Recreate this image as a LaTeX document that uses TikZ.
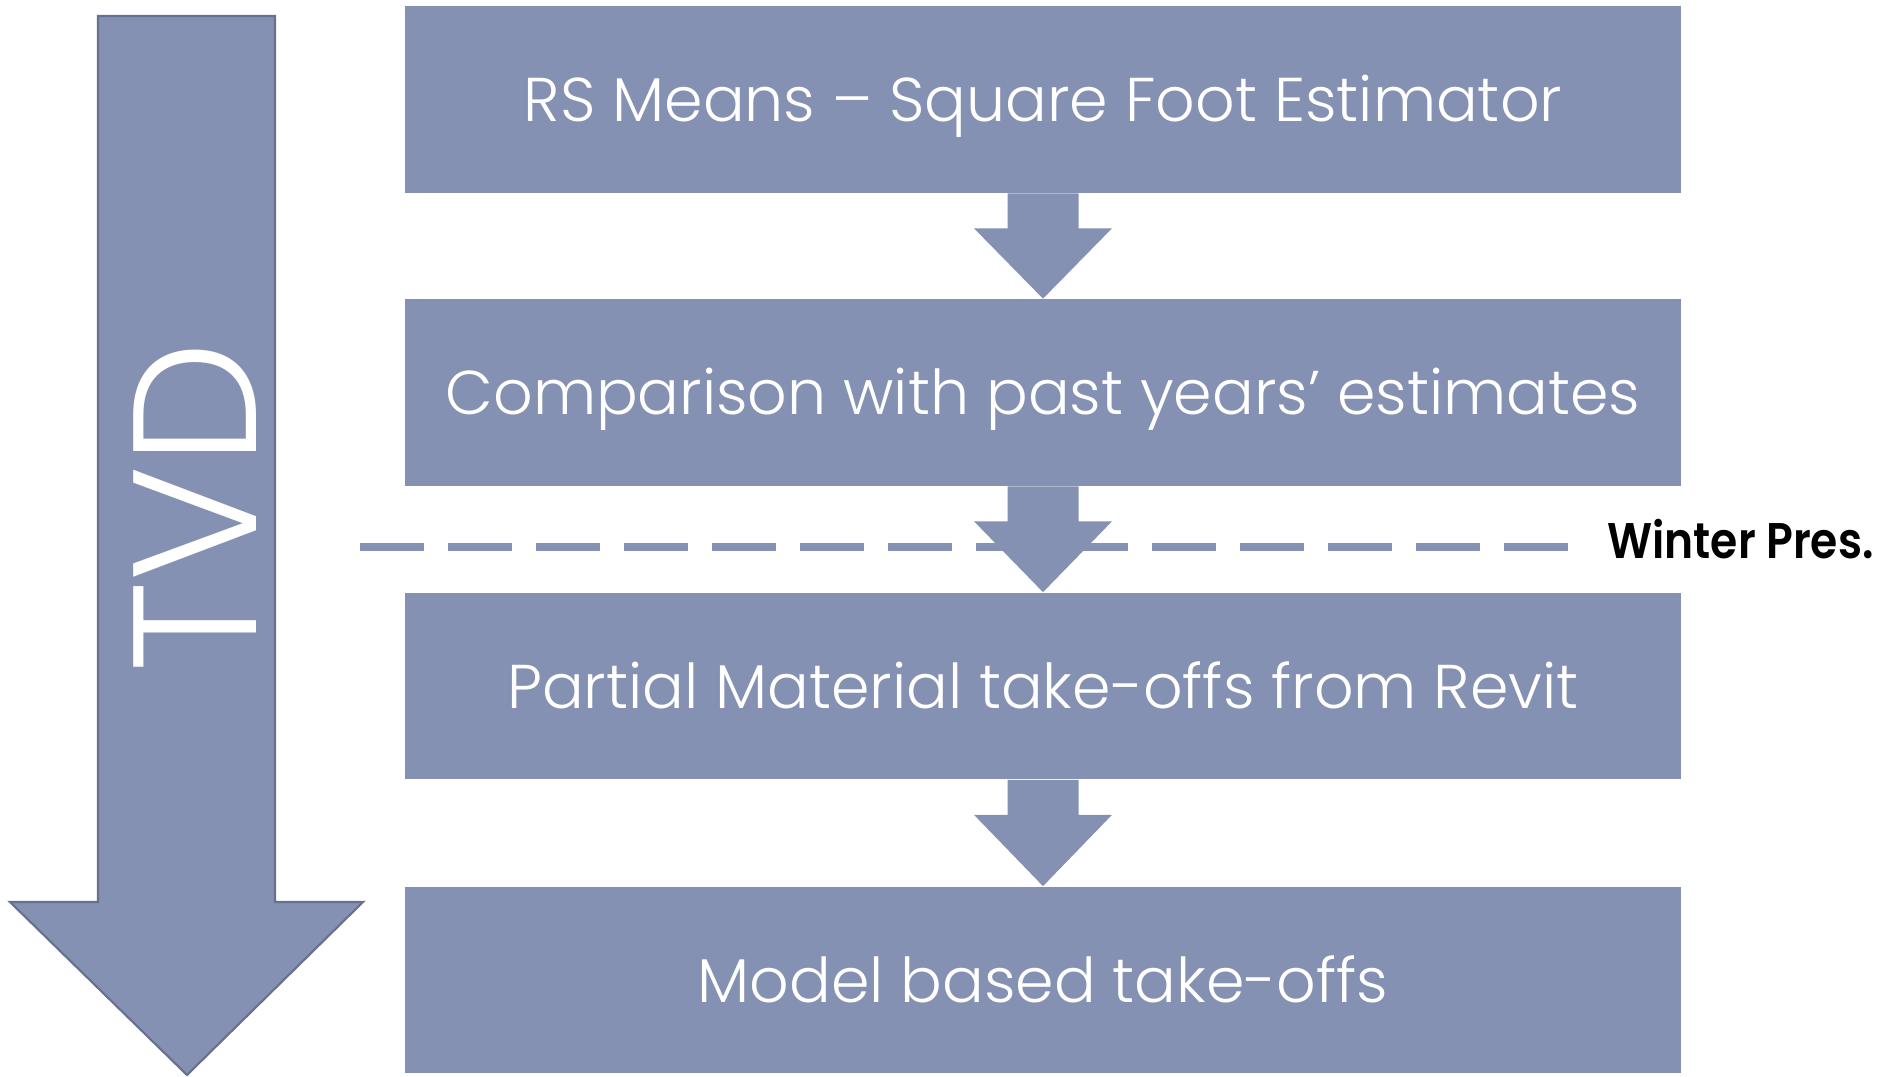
\documentclass[tikz,border=0pt]{standalone}
\usepackage{fontspec}
\setmainfont{Poppins Light}
\newfontfamily\presfont{Poppins SemiBold}
\usetikzlibrary{calc}
\definecolor{flowblue}{RGB}{132,145,179}
\definecolor{flowedge}{RGB}{103,112,142}
\newcommand{\flowarrow}[2]{%
	\fill[flowblue] ($(#1.south)+(-35.5,0)$) -- ($(#1.south)+(35.5,0)$) -- ($(#1.south)+(35.5,35)$)
	-- ($(#1.south)+(69,35)$) -- (#2.north) -- ($(#1.south)+(-69,35)$) -- ($(#1.south)+(-35.5,35)$) -- cycle;}
\begin{document}
\begin{tikzpicture}[x=0.02cm,y=-0.02cm,line join=miter,
	stepbox/.style={fill=flowblue,text=white,minimum width=25.52cm,minimum height=3.74cm,inner sep=0pt,
		text height=0.9cm,text depth=0pt,font=\fontsize{35.2}{40}\selectfont}]
	\useasboundingbox (0,0) rectangle (1877,1077);
	\filldraw[fill=flowblue,draw=flowedge,line width=1.2pt] (98,16)--(275,16)--(275,902)--(363,902)--(187,1075)--(10,902)--(98,902)--cycle;
	\node[rotate=90,text=white,inner sep=0pt,font=\fontsize{100}{110}\selectfont] (tvd) at (195,507) {TVD};
	\draw[flowblue,line width=0.16cm,dash pattern=on 1.28cm off 0.48cm] (360,547)--(1568,547);
	\node[anchor=base west,inner sep=0pt,xscale=0.88,transform shape,font=\presfont\fontsize{28.5}{32}\selectfont] (winter) at (1607,559) {Winter Pres.};
	\node[stepbox] (rsm) at (1043,99.5) {RS Means -- Square Foot Estimator};
	\node[stepbox] (cmp) at (1043,392.5) {Comparison with past years’ estimates};
	\node[stepbox] (pmt) at (1043,686) {Partial Material take-offs from Revit};
	\node[stepbox] (mbt) at (1043,980) {Model based take-offs};
	\flowarrow{rsm}{cmp}
	\flowarrow{cmp}{pmt}
	\flowarrow{pmt}{mbt}
\end{tikzpicture}
\end{document}
